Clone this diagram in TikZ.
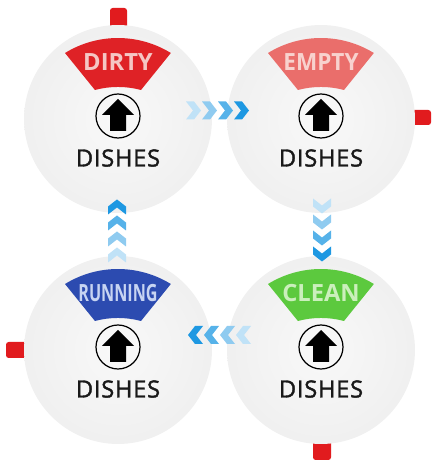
\documentclass[tikz,border=0pt]{standalone}
\usepackage{fontspec}
\setmainfont{Open Sans}
\newfontfamily\dishfont[FakeBold=1.6, LetterSpace=3]{Open Sans}
\usepackage{tikz}
\usepackage{xcolor}
\usetikzlibrary{calc}

\definecolor{tabred}{HTML}{E11B1E}
\definecolor{dirtyred}{HTML}{DF2226}
\definecolor{dirtytxt}{HTML}{F5C6C4}
\definecolor{emptyred}{HTML}{EA6E6B}
\definecolor{emptytxt}{HTML}{F8D2CE}
\definecolor{runblue}{HTML}{2C4BB0}
\definecolor{runtxt}{HTML}{C7D4F2}
\definecolor{cleangreen}{HTML}{5CC93E}
\definecolor{cleantxt}{HTML}{CBEFBC}
\definecolor{chevblue}{HTML}{1E98E2}

\tikzset{
  disk/.style={circle, minimum size=3.76cm, inner sep=0pt, inner color=gray!5, outer color=gray!12},
  tab/.style={fill=tabred, rounded corners=1.5pt},
  bannertext/.style={font=\fontsize{13.5}{14}\selectfont\bfseries, inner sep=0pt},
  dishes/.style={font=\dishfont\fontsize{13.5}{14}\selectfont, inner sep=0pt, text=black!90}
}

\begin{document}
\begin{tikzpicture}[x=0.02cm, y=0.02cm]
                \useasboundingbox (0,0) rectangle (434,466);

                % red tabs behind the disks
                \fill[tab] (110,430) rectangle (127,458);
                \fill[tab] (400,341) rectangle (431,356);
                \fill[tab] (6,108) rectangle (35,124);
                \fill[tab] (313,6) rectangle (331,35);

                \foreach \nm/\px/\py/\bc/\tc/\lbl/\sx in {dirty/118/347/dirtyred/dirtytxt/DIRTY/1,
                    empty/321/347/emptyred/emptytxt/EMPTY/0.95,
                    running/118/116/runblue/runtxt/RUNNING/0.68,
                    clean/321/116/cleangreen/cleantxt/CLEAN/1}
                {
                    \node[disk] (\nm) at (\px,\py) {};
                    \begin{scope}[shift={(\px,\py+3)}]
                        \fill[\bc] (-53,63) arc[start angle=121.6, end angle=58.4, radius=101]
                            -- (23,26) arc[start angle=75, end angle=105, radius=89] -- cycle;
                        \node[bannertext, text=\tc] (\nm-lbl) at (0,54) {\scalebox{\sx}[1]{\lbl}};
                        \draw[line width=0.7pt] (0,0) circle[radius=22];
                        \fill (0,17) -- (16,1) -- (8,1) -- (8,-15) -- (-8,-15) -- (-8,1) -- (-16,1) -- cycle;
                        \node[dishes] (\nm-txt) at (0,-42) {DISHES};
                    \end{scope}
                }

                % chevrons between the disks
                \foreach \from/\to/\dx/\dy/\rot in {dirty/empty/-2.5/8.5/0, empty/clean/1/5/-90,
                    clean/running/0.5/15/180, running/dirty/-1/3/90}
                    \foreach \k/\c in {0/28, 1/50, 2/75, 3/100}
                    {
                        \begin{scope}[shift={($(\from)!0.5!(\to)+(\dx,\dy)$)}, rotate=\rot]
                            \pgfmathsetmacro\s{-24+16*\k}
                            \fill[chevblue!\c] (\s-7,9) -- (\s+1,9) -- (\s+8,0) -- (\s+1,-9)
                                -- (\s-7,-9) -- (\s,0) -- cycle;
                        \end{scope}
                    }
            \end{tikzpicture}
\end{document}
